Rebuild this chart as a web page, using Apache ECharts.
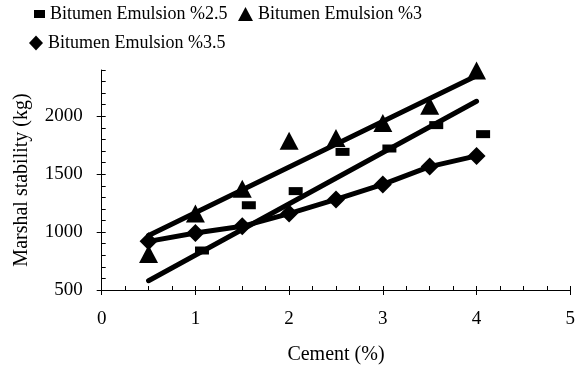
<!DOCTYPE html>
<html><head><meta charset="utf-8">
<script src="https://cdn.jsdelivr.net/npm/echarts@6/dist/echarts.min.js"></script>
<style>html,body{margin:0;padding:0;background:#fff}#c{width:578px;height:372px}</style>
</head><body><div id="c"></div>
<script>
const cement = [0.5, 1, 1.5, 2, 2.5, 3, 3.5, 4];
const em25X = [1.07, 1.57, 2.07, 2.57, 3.07, 3.57, 4.07];
const em25Y = [841, 1232, 1354, 1693, 1722, 1924, 1846];
const em3Y = [810, 1160, 1375, 1788, 1812, 1942, 2092, 2395];
const em35Y = [920, 992, 1050, 1160, 1282, 1412, 1566, 1658];
const trendX = [0.5, 4];
const trend25 = [580, 2130];
const trend3 = [970, 2350];
const xLabels = [0, 1, 2, 3, 4, 5];
const yLabels = [500, 1000, 1500, 2000];
const names = ['Bitumen Emulsion %2.5', 'Bitumen Emulsion %3', 'Bitumen Emulsion %3.5'];

const zip = (xs, ys) => xs.map((x, i) => [x, ys[i]]);
const F = 'Liberation Serif';
const TS = {fontFamily: F, fontSize: 18, color: '#000',
  rich: {s: {fontFamily: F, fontSize: 18, color: '#000'}}};
const chart = echarts.init(document.getElementById('c'));
function leg(name, icon, left, top, w, h) {
  return {
    data: [{name: name, icon: icon, itemStyle: {color: '#000', opacity: 1}}],
    left: left, top: top, itemWidth: w, itemHeight: h,
    formatter: n => '{s|' + n + '}',
    textStyle: TS, itemGap: 0, padding: 0, selectedMode: false
  };
}
chart.setOption({
  animation: false,
  backgroundColor: '#fff',
  textStyle: {fontFamily: F, color: '#000'},
  grid: {left: 101.7, right: 4.7, top: 70, bottom: 82},
  legend: [
    leg(names[0], 'rect', 34, 5, 11, 8),
    leg(names[1], 'triangle', 238, 5, 15, 14),
    leg(names[2], 'diamond', 29, 34, 14, 15)
  ],
  xAxis: [{
    type: 'value', min: 0, max: 5, interval: 0.25,
    axisLine: {lineStyle: {color: '#000', width: 1}},
    axisTick: {inside: true, length: 4, lineStyle: {color: '#000'}},
    axisLabel: {customValues: xLabels, margin: 20, fontFamily: F, fontSize: 19, color: '#000', formatter: v => String(v)},
    splitLine: {show: false},
    name: 'Cement (%)', nameLocation: 'middle', nameGap: 55,
    nameTextStyle: {fontFamily: F, fontSize: 20, color: '#000'}
  }, {
    type: 'value', min: 0, max: 5, position: 'bottom',
    axisLine: {show: false},
    axisTick: {customValues: xLabels, inside: false, length: 5, lineStyle: {color: '#000'}},
    axisLabel: {show: false}, splitLine: {show: false}
  }],
  yAxis: [{
    type: 'value', min: 500, max: 2400, interval: 100,
    axisLine: {show: true, lineStyle: {color: '#000', width: 1}},
    axisTick: {show: true, inside: true, length: 4, lineStyle: {color: '#000'}},
    axisLabel: {customValues: yLabels, margin: 19, fontFamily: F, fontSize: 19, color: '#000', formatter: v => String(v)},
    splitLine: {show: false},
    name: 'Marshal stability (kg)', nameLocation: 'middle', nameGap: 70,
    nameTextStyle: {fontFamily: F, fontSize: 20, color: '#000'}
  }, {
    type: 'value', min: 500, max: 2400, position: 'left',
    axisLine: {show: false},
    axisTick: {show: true, customValues: yLabels, inside: false, length: 5, lineStyle: {color: '#000'}},
    axisLabel: {show: false}, splitLine: {show: false}
  }],
  series: [
    {type: 'line', name: 'trend25', data: zip(trendX, trend25), showSymbol: false, symbol: 'none',
     lineStyle: {color: '#000', width: 5, cap: 'round'}, z: 2, silent: true},
    {type: 'line', name: 'trend3', data: zip(trendX, trend3), showSymbol: false, symbol: 'none',
     lineStyle: {color: '#000', width: 5, cap: 'round'}, z: 2, silent: true},
    {type: 'line', name: names[2], data: zip(cement, em35Y), symbol: 'diamond', symbolSize: 18,
     itemStyle: {color: '#000', opacity: 1}, lineStyle: {color: '#000', width: 5, cap: 'round'}, z: 3},
    {type: 'scatter', name: names[0], data: zip(em25X, em25Y), symbol: 'rect', symbolSize: [14, 8],
     itemStyle: {color: '#000', opacity: 1}, z: 4},
    {type: 'scatter', name: names[1], data: zip(cement, em3Y), symbol: 'triangle', symbolSize: [19, 18],
     itemStyle: {color: '#000', opacity: 1}, z: 4, clip: false}
  ]
});
</script></body></html>
